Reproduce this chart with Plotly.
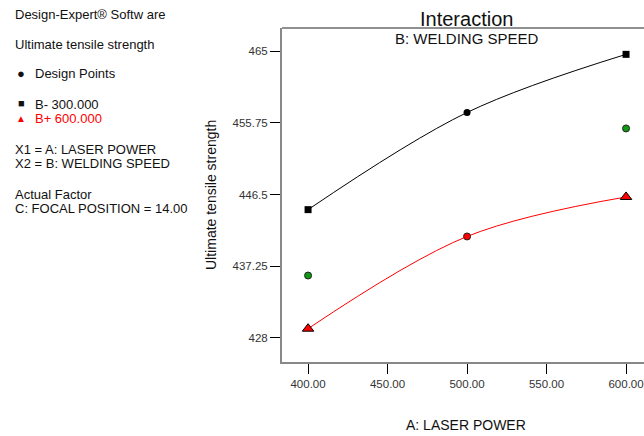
import plotly.graph_objects as go

W, H = 644, 436

# ---- data ----
laser_power = [400, 500, 600]
pred_low_speed = [444.56, 457.1, 464.6]    # B- 300.000 (black line)
pred_high_speed = [429.2, 441.1, 446.2]    # B+ 600.000 (red line)

low_end_x = [400, 600]
low_end_y = [444.56, 464.6]
high_end_x = [400, 600]
high_end_y = [429.2, 446.2]

design_black_x = [500]
design_black_y = [457.1]
design_red_x = [500]
design_red_y = [441.1]
design_green_x = [400, 600]
design_green_y = [436.06, 455.04]

y_ticks = [428, 437.25, 446.5, 455.75, 465]
y_ticktext = ["428", "437.25", "446.5", "455.75", "465"]
x_ticks = [400, 450, 500, 550, 600]
x_ticktext = ["400.00", "450.00", "500.00", "550.00", "600.00"]

FONT = "Liberation Sans, Arial, sans-serif"

fig = go.Figure()

fig.add_trace(go.Scatter(x=laser_power, y=pred_low_speed, mode="lines",
                         line=dict(color="black", width=1, shape="spline"),
                         hoverinfo="skip", showlegend=False))
fig.add_trace(go.Scatter(x=laser_power, y=pred_high_speed, mode="lines",
                         line=dict(color="red", width=1, shape="spline"),
                         hoverinfo="skip", showlegend=False))

fig.add_trace(go.Scatter(x=low_end_x, y=low_end_y, mode="markers",
                         marker=dict(symbol="square", size=7, color="black"),
                         showlegend=False))
fig.add_trace(go.Scatter(x=high_end_x, y=high_end_y, mode="markers",
                         marker=dict(symbol="triangle-up", size=10, color="red",
                                     line=dict(color="black", width=1)),
                         showlegend=False))
fig.add_trace(go.Scatter(x=design_black_x, y=design_black_y, mode="markers",
                         marker=dict(symbol="circle", size=7, color="black"),
                         showlegend=False))
fig.add_trace(go.Scatter(x=design_red_x, y=design_red_y, mode="markers",
                         marker=dict(symbol="circle", size=7, color="red",
                                     line=dict(color="#222", width=1)),
                         showlegend=False))
fig.add_trace(go.Scatter(x=design_green_x, y=design_green_y, mode="markers",
                         marker=dict(symbol="circle", size=7, color="#119911",
                                     line=dict(color="#222", width=1)),
                         showlegend=False))

def px(x):
    return x / W

def py(y):
    return 1 - y / H

annotations = []

def txt(x, y, s, size=13, color="#111", anchor="left", angle=0):
    annotations.append(dict(x=px(x), y=py(y), xref="paper", yref="paper",
                            text=s, showarrow=False, xanchor=anchor,
                            yanchor="middle", textangle=angle,
                            font=dict(family=FONT, size=size, color=color)))

txt(13, 14, "Design-Expert® Softw are")
txt(13, 44, "Ultimate tensile strength")
txt(21, 73, "●", size=13, anchor="center")
txt(33, 74, "Design Points")
txt(21, 103, "■", size=11, anchor="center")
txt(33, 104, "B- 300.000")
txt(21, 118, "▲", size=10, color="red", anchor="center")
txt(33, 119, "B+ 600.000", color="red")
txt(13, 149, "X1 = A: LASER POWER")
txt(13, 164, "X2 = B: WELDING SPEED")
txt(13, 194, "Actual Factor")
txt(13, 209, "C: FOCAL POSITION = 14.00")

txt(467, 19, "Interaction", size=20, anchor="center")
txt(467, 38, "B: WELDING SPEED", size=15, anchor="center")
txt(211, 195, "Ultimate tensile strength", size=14, anchor="center", angle=-90)
txt(466, 425, "A: LASER POWER", size=14, anchor="center")

x0, x1 = 282 / W, 1.0
y0, y1 = 1 - 362 / H, 1 - 28 / H

fig.update_layout(
    width=W, height=H,
    margin=dict(l=0, r=0, t=0, b=0),
    paper_bgcolor="white", plot_bgcolor="white",
    showlegend=False,
    annotations=annotations,
    shapes=[dict(type="line", xref="paper", yref="paper",
                 x0=x0, x1=x1, y0=y1, y1=y1,
                 line=dict(color="#222", width=1))],
    xaxis=dict(domain=[x0, x1], range=[383.6, 611.3],
               tickvals=x_ticks, ticktext=x_ticktext,
               ticks="outside", ticklen=10, tickcolor="black", tickwidth=1,
               showline=True, linecolor="#888", linewidth=2,
               showgrid=False, zeroline=False,
               tickfont=dict(family=FONT, size=11.5, color="#333")),
    yaxis=dict(domain=[y0, y1], range=[424.9, 468.0],
               tickvals=y_ticks, ticktext=y_ticktext,
               ticks="outside", ticklen=10, tickcolor="black", tickwidth=1,
               showline=True, linecolor="#888", linewidth=2,
               showgrid=False, zeroline=False,
               tickfont=dict(family=FONT, size=11.5, color="#333")),
)

fig.write_html("out.html", config={"displayModeBar": False},
               post_script="document.body.style.margin='0';document.body.style.overflow='hidden';")
